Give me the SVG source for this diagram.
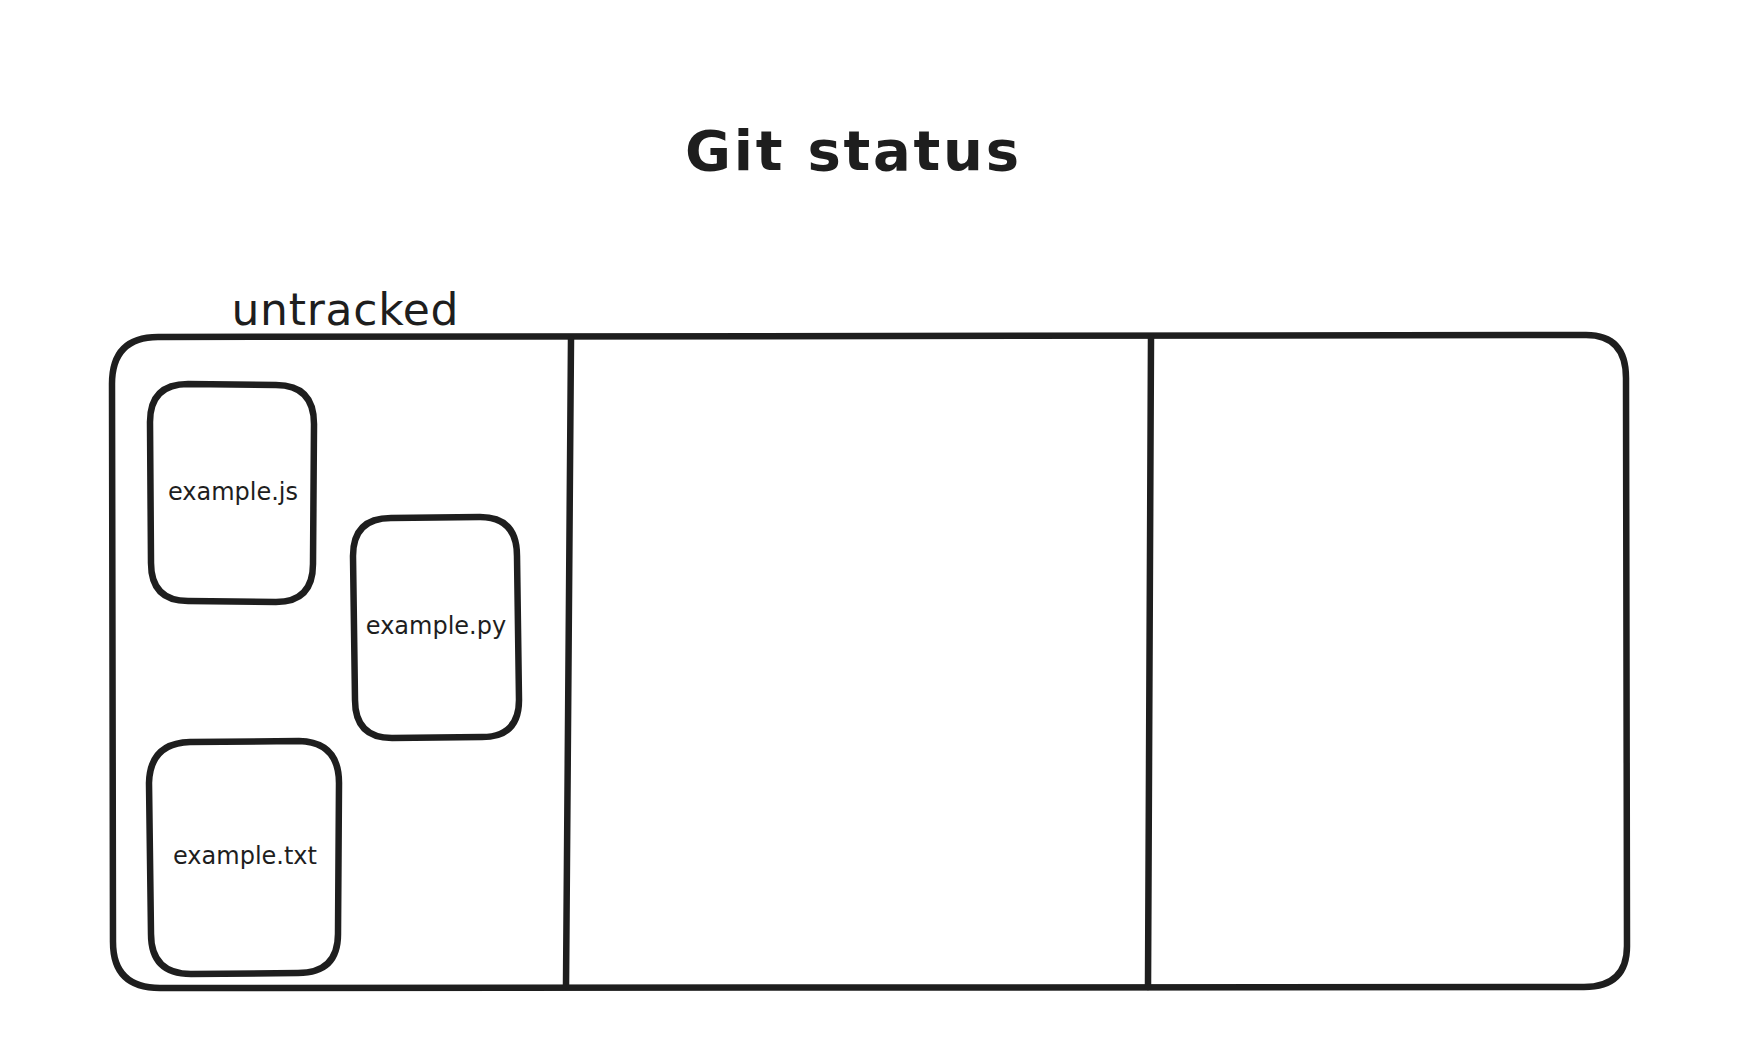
<svg xmlns="http://www.w3.org/2000/svg" width="1756" height="1060" viewBox="0 0 1756 1060">
<style>
.box{fill:none;stroke:#1e1e1e;stroke-width:6.5;stroke-linecap:round;stroke-linejoin:round}
.t{font-family:"DejaVu Sans","Liberation Sans",sans-serif;fill:#1e1e1e;text-anchor:middle}
</style>
<rect width="1756" height="1060" fill="#ffffff"/>
<g id="title"><text class="t" x="852" y="170" font-size="56" font-weight="bold" textLength="334" lengthAdjust="spacing">Git status</text></g>
<g id="label-untracked"><text class="t" x="345" y="325" font-size="44" textLength="227" lengthAdjust="spacing">untracked</text></g>
<g id="container">
<path class="box" d="M158 337 L1586 335 Q1626 335 1626 378 L1627 946 Q1627 987 1584 987 L160 988 Q113 988 113 942 L112 384 Q112 337 158 337 Z"/>
</g>
<g id="dividers">
<path class="box" d="M571 339 L566 986"/>
<path class="box" d="M1151 337 L1148 987"/>
</g>
<g id="example-js">
<path class="box" d="M188 384 L276 385 Q314 385 314 424 L313 564 Q313 602 276 602 L188 601 Q151 601 151 563 L150 422 Q150 384 188 384 Z"/>
<text class="t" x="233" y="500" font-size="24">example.js</text>
</g>
<g id="example-py">
<path class="box" d="M391 518 L480 517 Q517 517 517 556 L519 700 Q519 737 482 737 L392 738 Q355 738 355 700 L353 556 Q353 518 391 518 Z"/>
<text class="t" x="436" y="634" font-size="24">example.py</text>
</g>
<g id="example-txt">
<path class="box" d="M190 742 L299 741 Q339 742 339 783 L338 934 Q338 973 298 973 L191 974 Q151 974 151 934 L149 783 Q150 743 190 742 Z"/>
<text class="t" x="245" y="864" font-size="24">example.txt</text>
</g>
</svg>
